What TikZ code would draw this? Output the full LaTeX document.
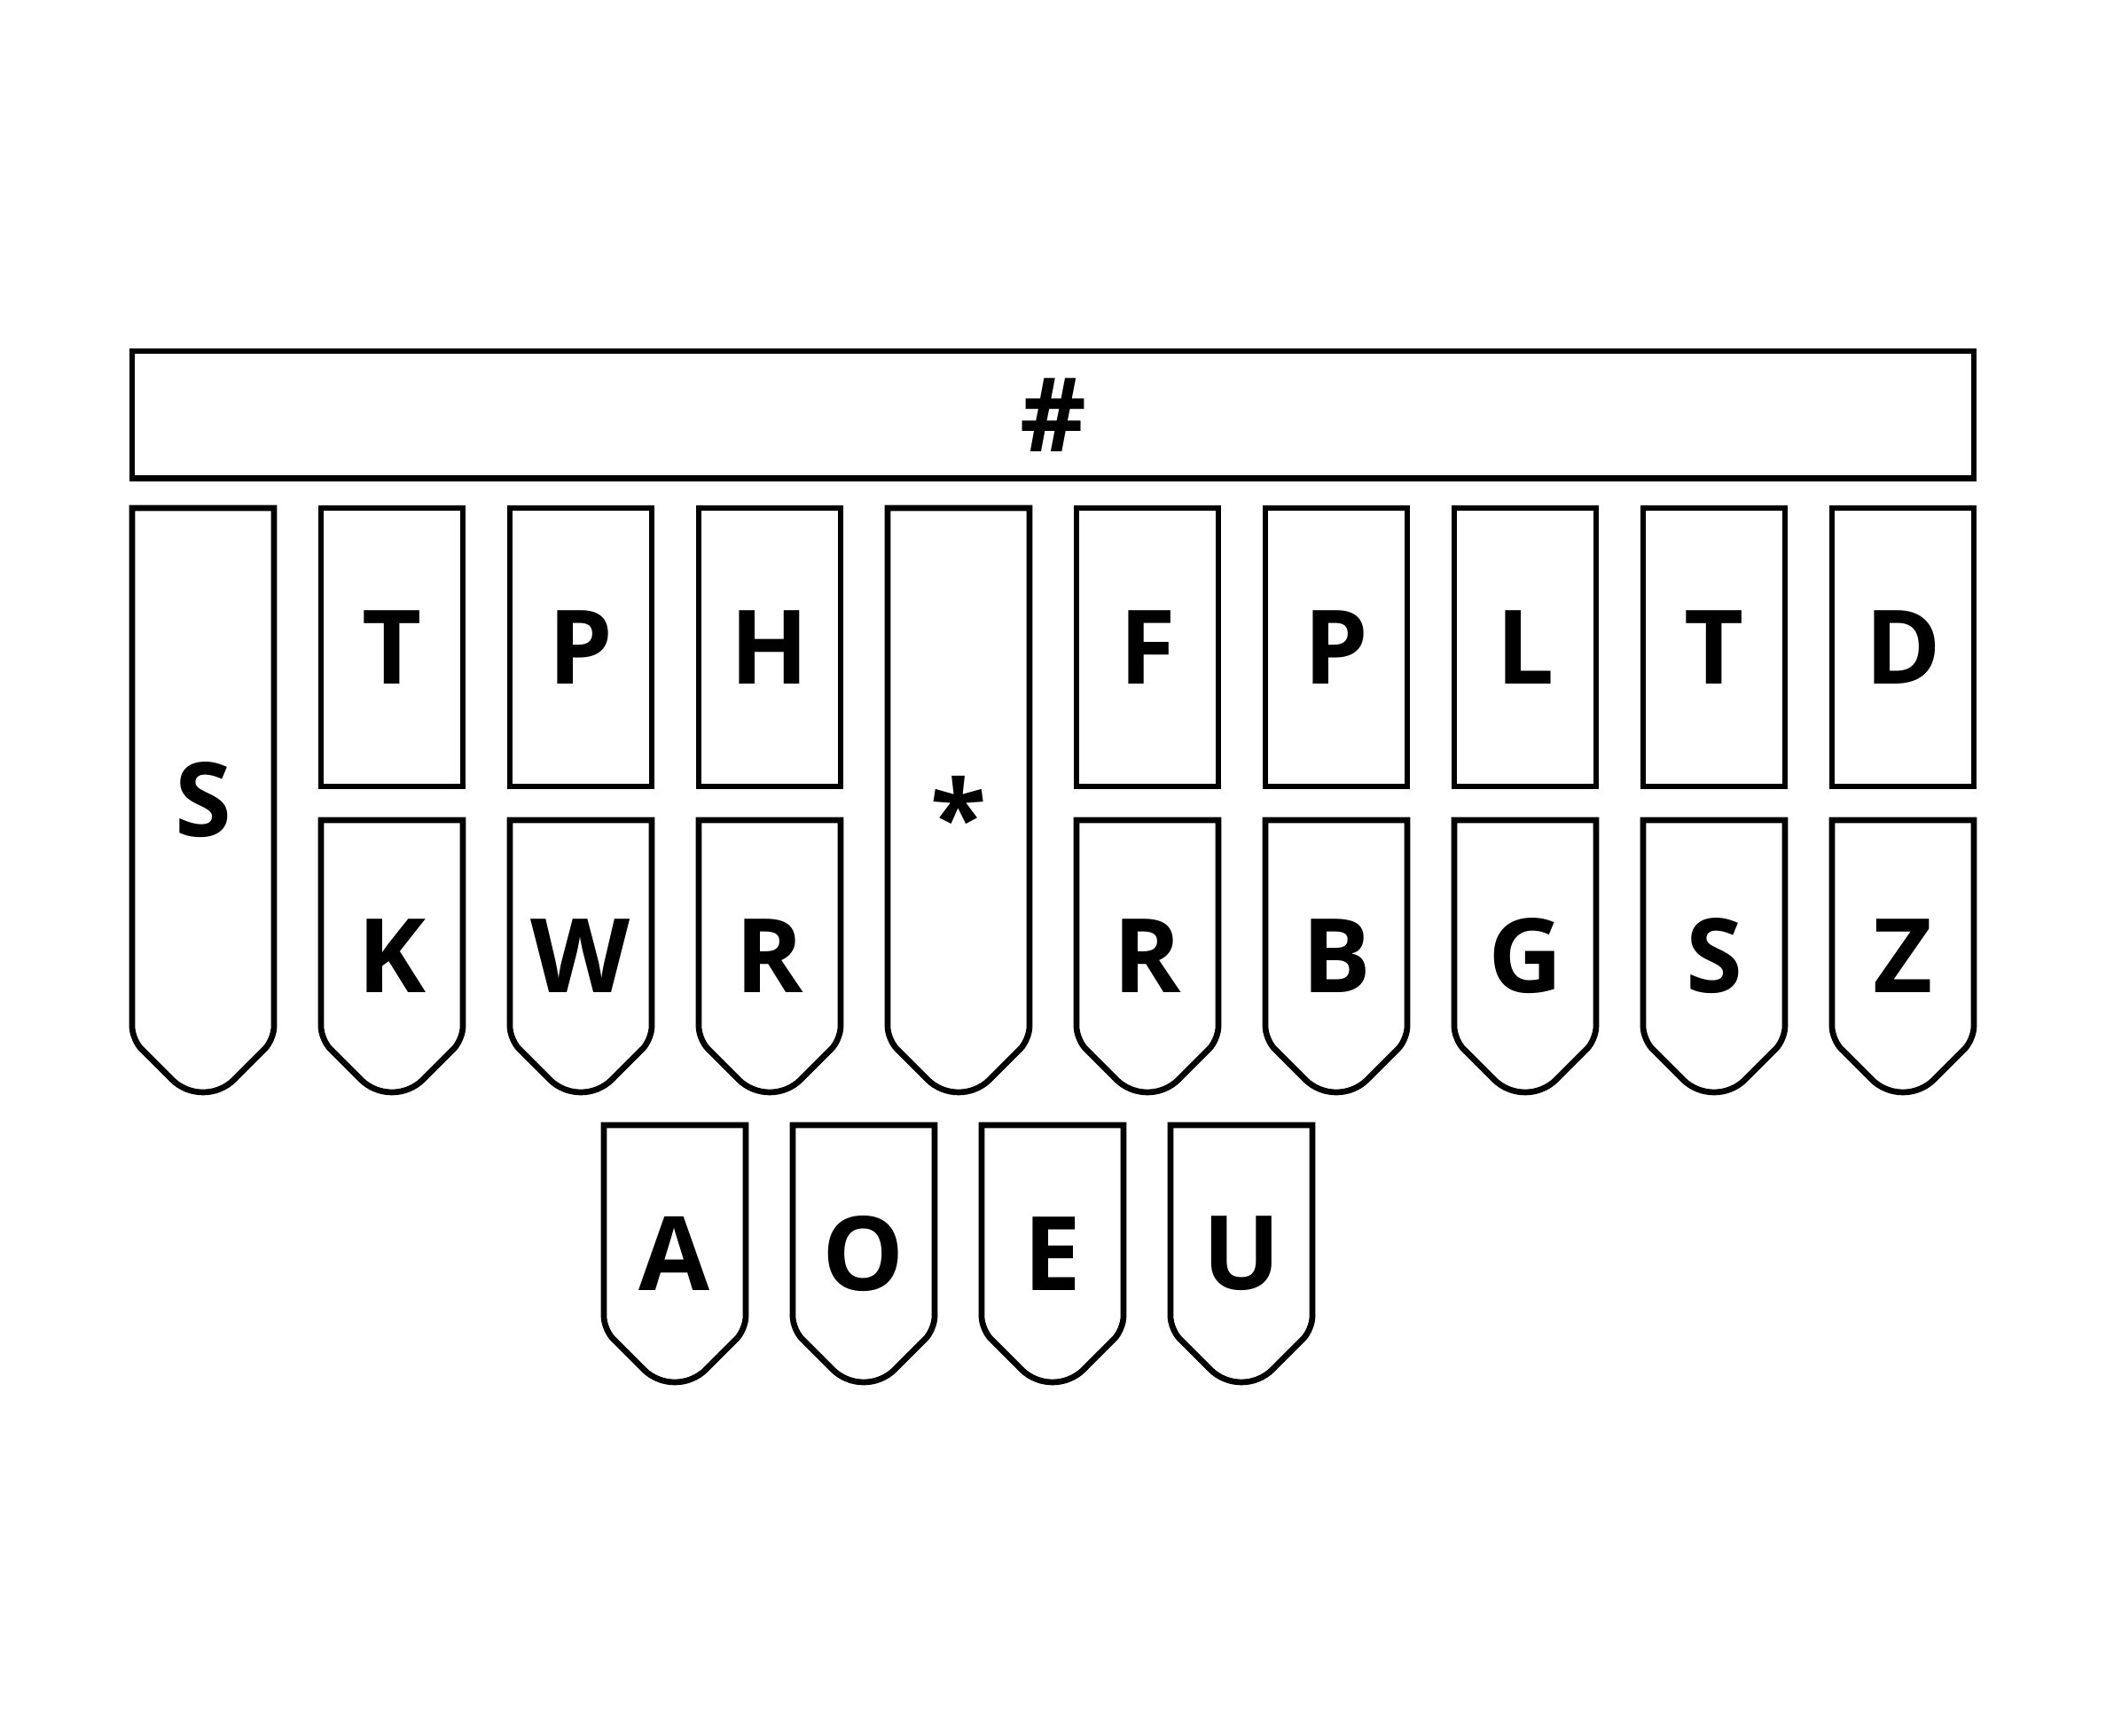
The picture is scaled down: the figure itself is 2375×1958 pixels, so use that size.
\documentclass[tikz,border=0pt]{standalone}
\usepackage{fontspec}
\usepackage{tikz}
\usetikzlibrary{positioning}
\newfontfamily\keyfont{Open Sans}
\newcommand{\keytype}{\keyfont\bfseries\fontsize{33}{40}\selectfont}
% outline of a key with a pointed end, drawn round the node #1
\newcommand{\tabline}[1]{\draw[outline] (#1.north) -- (#1.north east) [rounded corners=1.5mm] -- ([yshift=5.93mm]#1.south east) [rounded corners=5mm] -- ([yshift=-2.07mm]#1.south) [rounded corners=1.5mm] -- ([yshift=5.93mm]#1.south west) [sharp corners] -- (#1.north west) -- cycle;}

\begin{document}
\begin{tikzpicture}[x=0.1mm,y=-0.1mm]
\tikzstyle{key}=[rectangle, draw=black, line width=0.67mm, minimum width=16mm, minimum height=31.4mm, inner sep=0pt, outer sep=0pt, font=\keytype, node distance=5.3mm]
\tikzstyle{tab}=[rectangle, minimum width=16mm, inner sep=0pt, outer sep=0pt, font=\keytype, node distance=5.3mm]
\tikzstyle{outline}=[line width=0.67mm, draw=black]
\useasboundingbox (0,0) rectangle (2375,1958);

\node[key, anchor=north west, minimum width=207.7mm, minimum height=14.35mm] (num) at (149,396) {\#};

\node[tab, anchor=north west, minimum height=65.9mm] (s) at (149,573) {S};
\node[key, anchor=north west] (t) at (362,573) {T};
\node[key] (p) [right=of t] {P};
\node[key] (h) [right=of p] {H};
\node[tab, anchor=north west, minimum height=65.9mm] (star) at (1001,573) {\raisebox{-1.7mm}[\height][0pt]{*}};
\node[key] (f) [right=26.6mm of h] {F};
\node[key] (pr) [right=of f] {P};
\node[key] (l) [right=of pr] {L};
\node[key] (tr) [right=of l] {T};
\node[key] (d) [right=of tr] {D};

\node[tab, anchor=north west, minimum height=30.7mm] (k) at (362,925) {K};
\node[tab, minimum height=30.7mm] (w) [right=of k] {W};
\node[tab, minimum height=30.7mm] (r) [right=of w] {R};
\node[tab, minimum height=30.7mm] (rr) [right=26.6mm of r] {R};
\node[tab, minimum height=30.7mm] (b) [right=of rr] {B};
\node[tab, minimum height=30.7mm] (g) [right=of b] {G};
\node[tab, minimum height=30.7mm] (sr) [right=of g] {S};
\node[tab, minimum height=30.7mm] (z) [right=of sr] {Z};

\node[tab, anchor=north west, minimum height=29mm] (a) at (681,1269) {A};
\node[tab, minimum height=29mm] (o) [right=of a] {O};
\node[tab, minimum height=29mm] (e) [right=of o] {E};
\node[tab, minimum height=29mm] (u) [right=of e] {U};

\tabline{s}
\tabline{star}
\tabline{k}
\tabline{w}
\tabline{r}
\tabline{rr}
\tabline{b}
\tabline{g}
\tabline{sr}
\tabline{z}
\tabline{a}
\tabline{o}
\tabline{e}
\tabline{u}
\end{tikzpicture}
\end{document}
